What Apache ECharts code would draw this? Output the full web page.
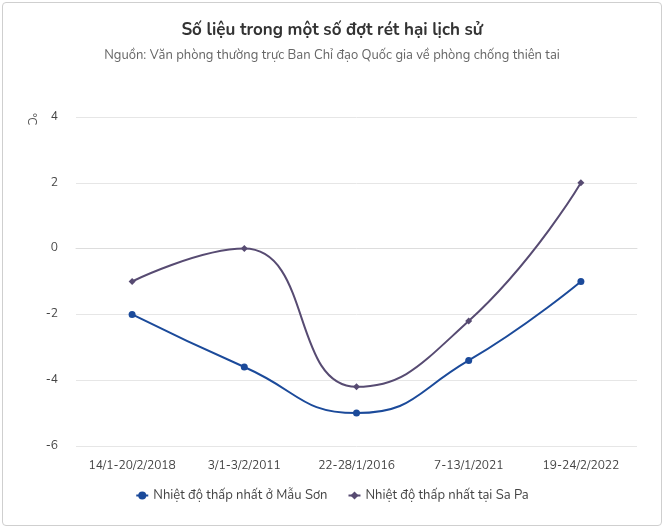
<!DOCTYPE html>
<html>
<head>
<meta charset="utf-8">
<script src="https://cdn.jsdelivr.net/npm/echarts@6/dist/echarts.min.js"></script>
<style>
  html, body { margin: 0; padding: 0; background: #fff; }
  #chart { position: absolute; left: 2px; top: 2px; width: 660px; height: 524px; border: 1px solid #cfcfcf; border-radius: 4px; box-sizing: border-box; }
</style>
</head>
<body>
<div id="chart"></div>
<script>
const categories = ['14/1-20/2/2018', '3/1-3/2/2011', '22-28/1/2016', '7-13/1/2021', '19-24/2/2022']
const mauSon = [-2, -3.6, -5, -3.4, -1]
const saPa = [-1, 0, -4.2, -2.2, 2]

const chart = echarts.init(document.getElementById('chart'))
const font = 'Nunito, "Noto Sans", sans-serif'

chart.setOption({
  title: {
    text: 'Số liệu trong một số đợt rét hại lịch sử',
    subtext: 'Nguồn: Văn phòng thường trực Ban Chỉ đạo Quốc gia về phòng chống thiên tai',
    left: 'center',
    top: 14,
    itemGap: 10,
    textStyle: { fontSize: 17, fontWeight: 'bold', color: '#333', fontFamily: font },
    subtextStyle: { fontSize: 13, color: '#666', fontFamily: font },
  },
  legend: {
    bottom: 18,
    itemGap: 20,
    itemWidth: 12,
    itemHeight: 10,
    textStyle: { fontSize: 13, color: '#444', fontFamily: font },
  },
  graphic: [{
    type: 'text',
    left: 22,
    top: 110,
    rotation: -Math.PI / 2,
    style: { text: '°C', fill: '#555', fontSize: 12, fontFamily: font },
  }],
  grid: { left: 73, right: 24, top: 114, bottom: 79 },
  xAxis: {
    type: 'category',
    data: categories,
    axisTick: { show: false },
    axisLine: { lineStyle: { color: '#ddd' } },
    axisLabel: { color: '#444', fontSize: 12, margin: 14, interval: 0, fontFamily: font },
  },
  yAxis: {
    type: 'value',
    min: -6,
    max: 4,
    interval: 2,
    axisLabel: { color: '#444', fontSize: 12, margin: 18, fontFamily: font },
    splitLine: { lineStyle: { color: '#e6e6e6' } },
  },
  series: [
    {
      name: 'Nhiệt độ thấp nhất ở Mẫu Sơn',
      type: 'line',
      data: mauSon,
      smooth: true,
      symbol: 'circle',
      symbolSize: 7,
      itemStyle: { color: '#1b4a9a' },
      lineStyle: { width: 2, color: '#1b4a9a' },
    },
    {
      name: 'Nhiệt độ thấp nhất tại Sa Pa',
      type: 'line',
      data: saPa,
      smooth: true,
      symbol: 'diamond',
      symbolSize: 7,
      itemStyle: { color: '#574b72' },
      lineStyle: { width: 2, color: '#574b72' },
    },
  ],
})
</script>
</body>
</html>
